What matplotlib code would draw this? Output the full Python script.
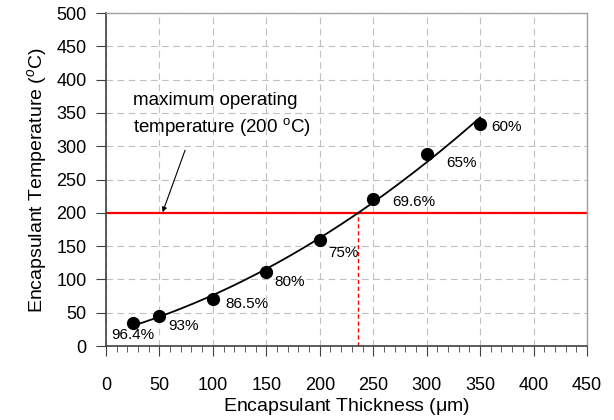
import matplotlib
matplotlib.use('Agg')
import matplotlib.pyplot as plt
import numpy as np
from matplotlib.ticker import MultipleLocator

plt.rcParams['font.family'] = ['Liberation Sans', 'DejaVu Sans']
plt.rcParams['mathtext.fontset'] = 'custom'
plt.rcParams['mathtext.rm'] = 'Liberation Sans'
plt.rcParams['mathtext.it'] = 'Liberation Sans:italic'

# data
thickness = [25, 50, 100, 150, 200, 250, 300, 350]
temperature = [35, 45, 70, 111, 160, 221, 289, 333]
efficiency = ['96.4%', '93%', '86.5%', '80%', '75%', '69.6%', '65%', '60%']
# label offsets (points) and alignment for each percentage
label_dx = [0, 6, 9, 6, 6, 14, 14, 8]
label_dy = [-9, -7, -3, -7, -10, -2, -7, -2]
label_ha = ['center', 'left', 'left', 'left', 'left', 'left', 'left', 'left']
max_temp = 200

fig = plt.figure(figsize=(6.14, 4.2), dpi=100)
ax = fig.add_axes([0.1726, 0.176, 0.7834, 0.793])

# quadratic trend line through the points
coef = np.polyfit(thickness, temperature, 2)
xs = np.linspace(thickness[0], thickness[-1], 200)
ax.plot(xs, np.polyval(coef, xs), color='black', lw=1.3, zorder=3)
ax.plot(thickness, temperature, 'o', color='black', ms=8.5, zorder=4)

# where the trend reaches the maximum temperature
shifted = coef.copy()
shifted[-1] -= max_temp
roots = np.roots(shifted)
x_cross = [r.real for r in roots if abs(r.imag) < 1e-9 and 0 < r.real < 450][0]

ax.axhline(max_temp, color='red', lw=1.6, zorder=2)
ax.plot([x_cross, x_cross], [0, max_temp], color='red', lw=1.0, ls=(0, (3, 2)), zorder=2)

for x, y, s, dx, dy, ha in zip(thickness, temperature, efficiency, label_dx, label_dy, label_ha):
    ax.annotate(s, (x, y), xytext=(dx, dy), textcoords='offset points',
                ha=ha, va='center', fontsize=11)

ax.annotate('maximum operating\ntemperature (200 $^{\\mathrm{o}}$C)', xy=(53, 201), xytext=(25, 312),
            ha='left', va='bottom', fontsize=13.5, linespacing=1.45)
ax.annotate('', xy=(53, 201), xytext=(74, 294),
            arrowprops=dict(arrowstyle='-|>', color='black', lw=0.8, mutation_scale=7,
                            shrinkA=0, shrinkB=0))

ax.set_xlim(0, 450)
ax.set_ylim(0, 500)
ax.xaxis.set_major_locator(MultipleLocator(50))
ax.xaxis.set_minor_locator(MultipleLocator(10))
ax.yaxis.set_major_locator(MultipleLocator(50))

ax.grid(True, which='major', color='#c0c0c0', ls=(0, (6, 4)), lw=0.8)
ax.set_axisbelow(True)

ax.tick_params(axis='x', which='major', direction='out', length=7, pad=15, labelsize=13, color='#404040')
ax.tick_params(axis='x', which='minor', direction='out', length=4, color='#404040')
ax.tick_params(axis='y', which='major', direction='out', length=7, pad=7, labelsize=13, color='#404040')

for side in ['left', 'bottom']:
    ax.spines[side].set_color('#404040')
    ax.spines[side].set_linewidth(1.2)
for side in ['top', 'right']:
    ax.spines[side].set_color('#a0a0a0')
    ax.spines[side].set_linewidth(1.0)

ax.set_xlabel('Encapsulant Thickness ($\\mathrm{\\mu}$m)', fontsize=14, labelpad=2)
ax.set_ylabel('Encapsulant Temperature ($^{\\mathit{o}}$C)', fontsize=14, labelpad=5)

fig.savefig('out.png', dpi=100)
